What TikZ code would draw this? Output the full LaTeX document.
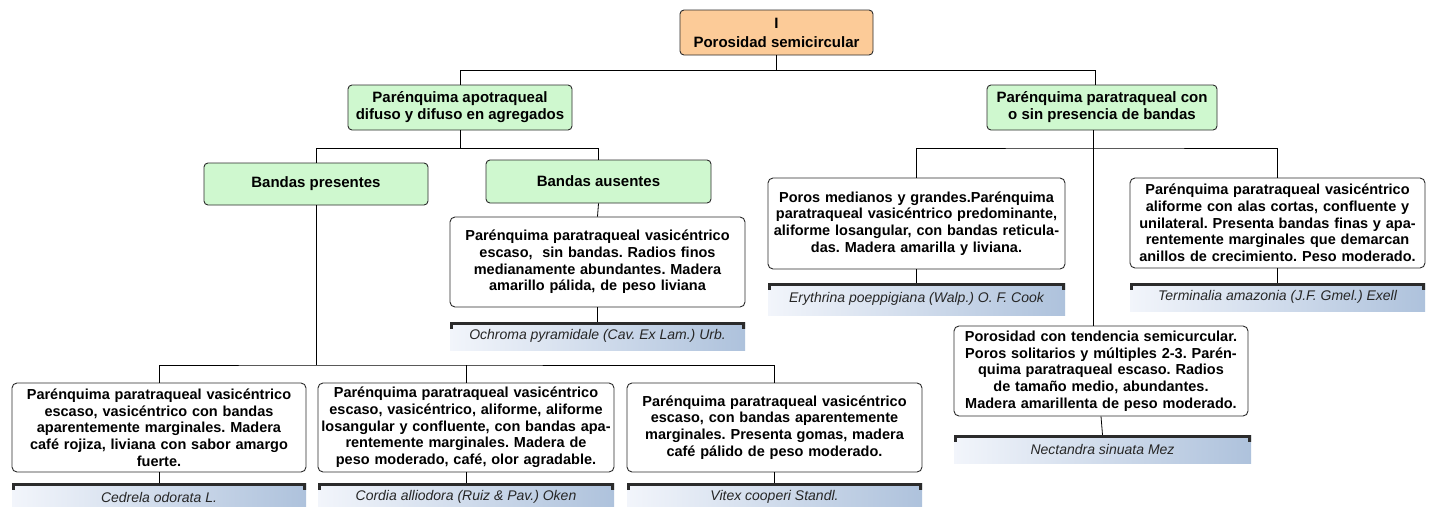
\documentclass[tikz,border=0pt]{standalone}
\usepackage{fontspec}
\setmainfont{Liberation Sans}
\usetikzlibrary{calc}
\frenchspacing
\definecolor{topfill}{HTML}{FCCB98}
\definecolor{greenfill}{HTML}{CFF8CF}
\definecolor{edge}{HTML}{2B2B2B}
\definecolor{specleft}{HTML}{F2F5FB}
\definecolor{specright}{HTML}{AEC2DC}
\definecolor{spectext}{HTML}{262626}
\begin{document}
\begin{tikzpicture}[x=1pt,y=-1pt,
  topbox/.style={draw=edge, fill=topfill, rounded corners=4pt, line width=0.9pt, align=center,
    font=\bfseries\fontsize{15}{19}\selectfont, inner sep=0pt},
  greenbox/.style={draw=edge, fill=greenfill, rounded corners=4pt, line width=0.9pt, align=center,
    font=\bfseries\fontsize{15}{17}\selectfont, inner sep=0pt},
  descbox/.style={draw=edge, fill=white, rounded corners=5pt, line width=0.9pt, align=center,
    font=\bfseries\fontsize{14.5}{16.7}\selectfont, inner sep=0pt},
  species/.style={left color=specleft, right color=specright, inner sep=0pt, align=center,
    font=\itshape\fontsize{14}{16}\selectfont, text=spectext,
    path picture={\draw[edge, line width=5.5pt]
      ([yshift=-7pt]path picture bounding box.north west) -- (path picture bounding box.north west)
      -- (path picture bounding box.north east) -- ([yshift=-7pt]path picture bounding box.north east);}},
  conn/.style={draw=black, line width=0.8pt}
]
\clip (0,0) rectangle (1432,506);
\fill[white] (0,0) rectangle (1432,506);

% top
\node[topbox, minimum width=193pt, minimum height=45pt] (top) at (776.5,32.5) {I\\Porosidad semicircular};

% level 2
\node[greenbox, minimum width=224pt, minimum height=45pt] (lp) at (460,107.5) {Parénquima apotraqueal\\difuso y difuso en agregados};
\node[greenbox, minimum width=230pt, minimum height=45pt] (rp) at (1102,107.5) {Parénquima paratraqueal con\\o sin presencia de bandas};

% level 3 left
\node[greenbox, minimum width=224pt, minimum height=42pt] (bp) at (316,184) {Bandas presentes};
\node[greenbox, minimum width=225pt, minimum height=43pt] (ba) at (598.5,181.5) {Bandas ausentes};

% bandas ausentes child
\node[descbox, minimum width=295pt, minimum height=90pt, text width=289pt] (t2) at (597.5,262)
  {Parénquima paratraqueal vasicéntrico\\escaso,\ \ sin bandas. Radios finos\\medianamente abundantes. Madera\\amarillo pálida, de peso liviana};
\node[species, minimum width=295pt, minimum height=28pt] (s2) at (597.5,336) {Ochroma pyramidale (Cav. Ex Lam.) Urb.};

% right children
\node[descbox, minimum width=297pt, minimum height=91pt, text width=291pt] (t5) at (916.5,223.5)
  {Poros medianos y grandes.Parénquima\\paratraqueal vasicéntrico predominante,\\aliforme losangular, con bandas reticula-\\das. Madera amarilla y liviana.};
\node[species, minimum width=297pt, minimum height=32pt] (s5) at (916.5,299) {Erythrina poeppigiana (Walp.) O. F. Cook};

\node[descbox, minimum width=295pt, minimum height=90pt, text width=289pt] (t6) at (1277.5,223)
  {Parénquima paratraqueal vasicéntrico\\aliforme con alas cortas, confluente y\\unilateral. Presenta bandas finas y apa-\\rentemente marginales que demarcan\\anillos de crecimiento. Peso moderado.};
\node[species, minimum width=295pt, minimum height=28pt] (s6) at (1277.5,297) {Terminalia amazonia (J.F. Gmel.) Exell};

\node[descbox, minimum width=294pt, minimum height=90pt, text width=288pt] (t7) at (1101,371)
  {Porosidad con tendencia semicurcular.\\Poros solitarios y múltiples 2-3. Parén-\\quima paratraqueal escaso. Radios\\de tamaño medio, abundantes.\\Madera amarillenta de peso moderado.};
\node[species, minimum width=297pt, minimum height=28pt] (s7) at (1102.5,449) {Nectandra sinuata Mez};

% bottom row
\node[descbox, minimum width=294pt, minimum height=89pt, text width=288pt] (b1) at (159,427.5)
  {Parénquima paratraqueal vasicéntrico\\escaso, vasicéntrico con bandas\\aparentemente marginales. Madera\\café rojiza, liviana con sabor amargo\\fuerte.};
\node[descbox, minimum width=296pt, minimum height=89pt, text width=290pt] (b2) at (466,427.5)
  {Parénquima paratraqueal vasicéntrico\\escaso, vasicéntrico, aliforme, aliforme\\losangular y confluente, con bandas apa-\\rentemente marginales. Madera de\\peso moderado, café, olor agradable.};
\node[descbox, minimum width=295pt, minimum height=89pt, text width=289pt] (b3) at (774.5,427.5)
  {Parénquima paratraqueal vasicéntrico\\escaso, con bandas aparentemente\\marginales. Presenta gomas, madera\\café pálido de peso moderado.};

\node[species, minimum width=294pt, minimum height=28pt] (sb1) at (159,497) {Cedrela odorata L.};
\node[species, minimum width=296pt, minimum height=28pt] (sb2) at (466,497) {Cordia alliodora (Ruiz \& Pav.) Oken};
\node[species, minimum width=295pt, minimum height=28pt] (sb3) at (774.5,497) {Vitex cooperi Standl.};

% connectors
\draw[conn] (top.south) -- ++(0,15) coordinate (j0);
\coordinate (rpn) at ($(rp.north)+(-7,0)$);
\draw[conn] (lp.north) |- (j0) -| (rpn);

\draw[conn] (lp.south) -- ++(0,18) coordinate (j1);
\draw[conn] (bp.north) |- (j1) -| (ba.north);
\draw[conn] (ba.south) -- (t2.north);
\draw[conn] (t2.south) -- (s2.north);

\coordinate (j2) at (316,365);
\draw[conn] (bp.south) -- (j2);
\draw[conn] (b1.north) |- (j2) -| (b3.north);
\draw[conn] (b2.north) -- (b2.north |- j2);
\draw[conn] (b1.south) -- (sb1.north);
\draw[conn] (b2.south) -- (sb2.north);
\draw[conn] (b3.south) -- (sb3.north);

\coordinate (rps) at ($(rp.south)+(-9,0)$);
\draw[conn] (rps) -- (rps |- t7.north);
\coordinate (j3) at (1093,148);
\draw[conn] (t5.north) |- (j3) -| (t6.north);
\draw[conn] (t5.south) -- (s5.north);
\draw[conn] (t6.south) -- (s6.north);
\draw[conn] (t7.south) -- (s7.north);
\end{tikzpicture}
\end{document}
